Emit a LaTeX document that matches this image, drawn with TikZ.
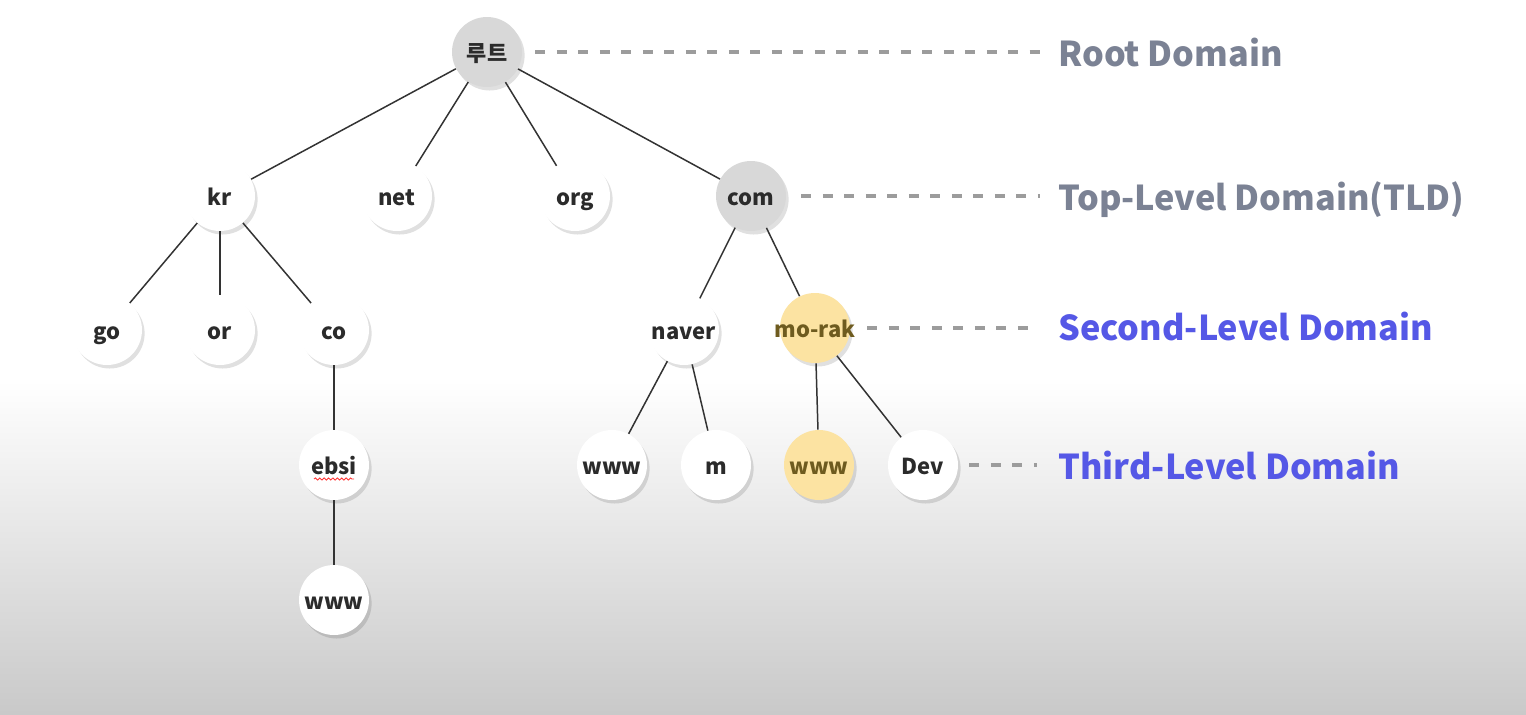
\documentclass[tikz,border=0pt]{standalone}
\usepackage{fontspec}
\setmainfont{Noto Sans CJK KR}
\usepackage{tikz}
\usetikzlibrary{positioning, shadows, decorations.pathmorphing}
\tikzset{>=stealth}

\definecolor{bgbottom}{HTML}{C9C9C9}
\definecolor{edgecol}{HTML}{333333}
\definecolor{nodetext}{HTML}{2B2B2B}
\definecolor{grayfill}{HTML}{D8D8D8}
\definecolor{yellowfill}{HTML}{FCE3A2}
\definecolor{yellowtext}{HTML}{6E5B1F}
\definecolor{dashcol}{HTML}{9C9C9C}
\definecolor{greylabel}{HTML}{7B8294}
\definecolor{bluelabel}{HTML}{5558E6}

\tikzset{
  dom/.style={circle, fill=white, inner sep=0pt, minimum size=1.4cm,
    text=nodetext, font=\bfseries\fontsize{12.5}{12.5}\selectfont,
    text height=1.9ex, text depth=0ex,
    drop shadow={shadow xshift=1.5pt, shadow yshift=-2pt, opacity=0.12, fill=black}},
  graydom/.style={dom, fill=grayfill},
  yellowdom/.style={dom, fill=yellowfill, text=yellowtext},
  level/.style={anchor=base west, inner sep=0pt, font=\bfseries\fontsize{19.5}{19.5}\selectfont},
  leader/.style={dashcol, line width=2.2pt, dash pattern=on 0.2cm off 0.23cm},
  link/.style={edgecol, line width=0.85pt}
}

\begin{document}
\begin{tikzpicture}[x=0.02cm, y=-0.02cm]

            % background
            \fill[white] (0,0) rectangle (1526,714);
            \shade[top color=white, bottom color=bgbottom] (0,380) rectangle (1526,714);
            \useasboundingbox (0,0) rectangle (1526,714);

            \node[graydom] (root) at (487,52) {루트};
            \node[dom] (kr) at (220,196) {kr};
            \node[dom] (net) at (397,196) {net};
            \node[dom] (org) at (575,196) {org};
            \node[graydom] (com) at (751,196) {com};
            \node[dom] (go) at (107,330) {go};
            \node[dom] (or) at (220,330) {or};
            \node[dom] (co) at (334,330) {co};
            \node[dom] (naver) at (684,330) {naver};
            \node[yellowdom] (morak) at (815,328) {\makebox[0pt]{mo-rak}};
            \node[dom] (ebsi) at (334,465) {ebsi};
            \node[dom] (nwww) at (612,465) {www};
            \node[dom] (m) at (716,465) {m};
            \node[yellowdom] (mwww) at (819,465) {www};
            \node[dom] (dev) at (923,465) {Dev};
            \node[dom] (ewww) at (334,600) {www};

            \draw [link] (root)--(kr);
            \draw [link] (root)--(net);
            \draw [link] (root)--(org);
            \draw [link] (root)--(com);
            \draw [link] (kr)--(go);
            \draw [link] (kr)--(or);
            \draw [link] (kr)--(co);
            \draw [link] (co)--(ebsi);
            \draw [link] (ebsi)--(ewww);
            \draw [link] (com)--(naver);
            \draw [link] (com)--(morak);
            \draw [link] (naver)--(nwww);
            \draw [link] (naver)--(m);
            \draw [link] (morak)--(mwww);
            \draw [link] (morak)--(dev);

            % spell-check underline
            \draw[red!80, line width=0.5pt, decorate, decoration={snake, amplitude=0.6pt, segment length=2.5pt}]
              (314,479)--(354,479);

            \node[level, text=greylabel] (L1) at (1058,66) {Root Domain};
            \node[level, text=greylabel] (L2) at (1058,210) {Top-Level Domain(TLD)};
            \node[level, text=bluelabel] (L3) at (1058,340) {Second-Level Domain};
            \node[level, text=bluelabel] (L4) at (1058,479) {Third-Level Domain};

            \draw[leader, shorten <=0.26cm, shorten >=0.36cm] (root.east)--(root.east -| L1.west);
            \draw[leader, shorten <=0.3cm, shorten >=0.36cm] (com.east)--(com.east -| L2.west);
            \draw[leader, shorten <=0.34cm, shorten >=0.5cm] (morak.east)--(morak.east -| L3.west);
            \draw[leader, shorten <=0.22cm, shorten >=0.42cm] (dev.east)--(dev.east -| L4.west);
            \end{tikzpicture}
\end{document}
